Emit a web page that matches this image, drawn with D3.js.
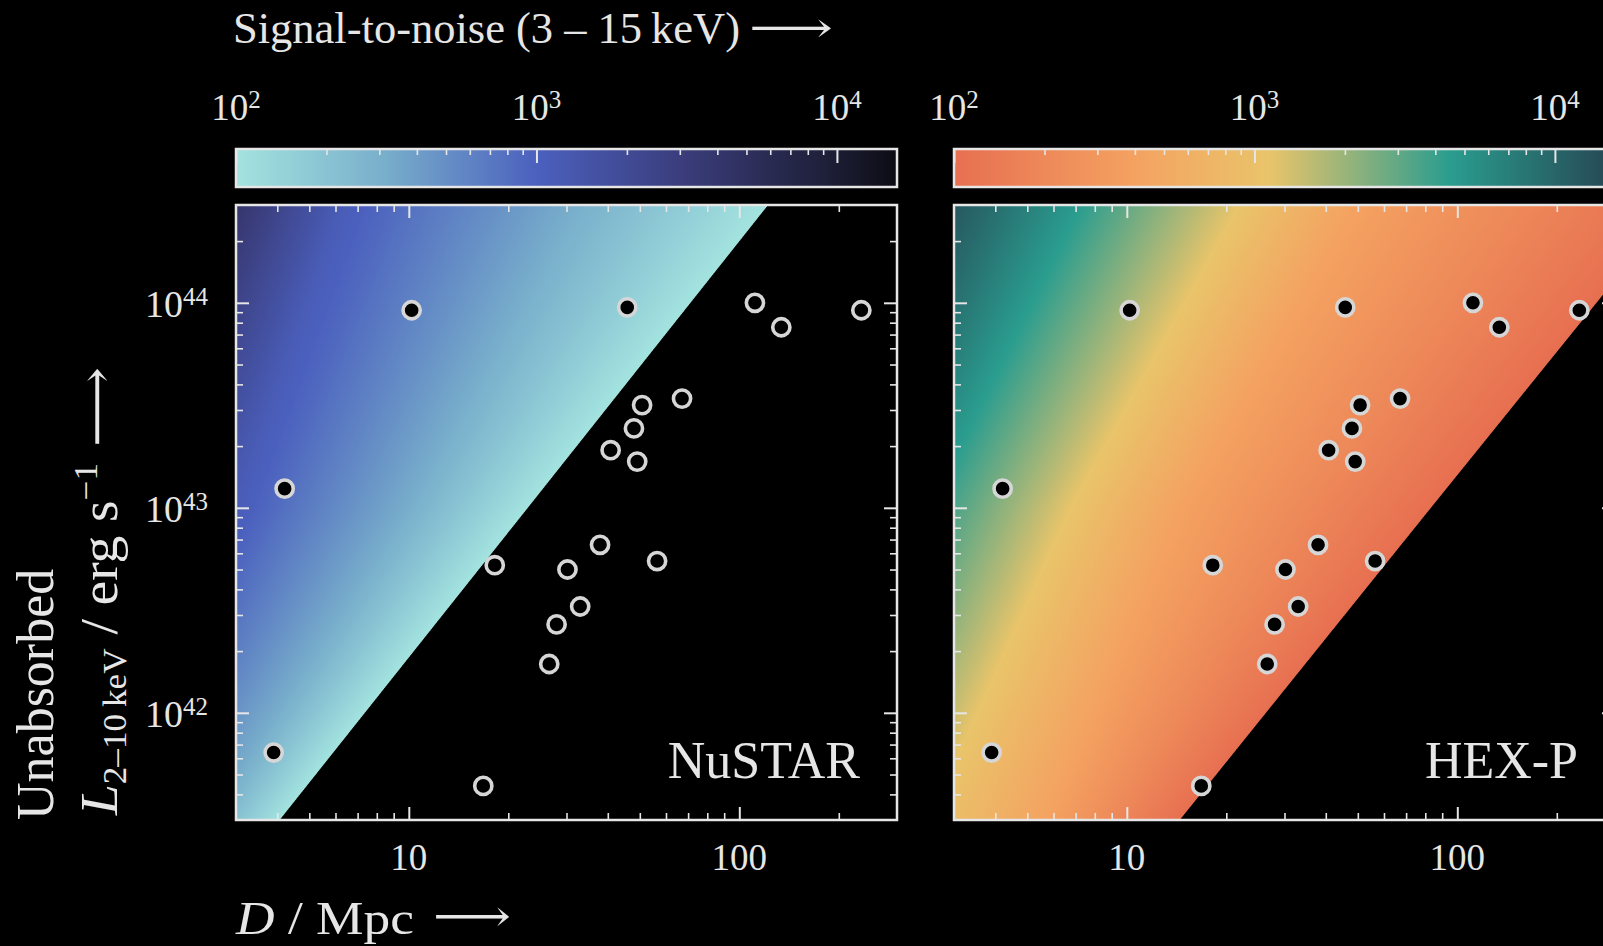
<!DOCTYPE html>
<html>
<head>
<meta charset="utf-8">
<script src="https://cdn.jsdelivr.net/npm/d3@7"></script>
<style>
  html, body { margin: 0; padding: 0; background: #000; }
  svg { display: block; }
  text { font-family: "Liberation Serif", "DejaVu Serif", serif; fill: #e6e6e6; }
</style>
</head>
<body>
<svg id="chart" width="1603" height="946"></svg>
<script>
// ---- sources: distance (Mpc) and unabsorbed 2-10 keV luminosity (erg/s) ----
const distances   = [3.90, 4.21, 10.2, 45.8, 111.5, 134, 234, 67.1, 50.8, 48.0,
                     40.8, 49.1, 37.9, 18.2, 30.2, 56.4, 33.0, 28.0, 26.6, 16.8];
const luminosities = [6.4e41, 1.24e43, 9.2e43, 9.5e43, 1.0e44, 7.6e43, 9.2e43, 3.41e43, 3.17e43, 2.44e43,
                      1.91e43, 1.68e43, 6.6e42, 5.25e42, 5.0e42, 5.5e42, 3.3e42, 2.7e42, 1.73e42, 4.4e41];

// ---- axis ticks ----
const distMajor = [10, 100];
const distMinor = [4, 5, 6, 7, 8, 9, 20, 30, 40, 50, 60, 70, 80, 90, 200];
const lumMajor = [1e42, 1e43, 1e44];
const lumMinor = [4e41, 5e41, 6e41, 7e41, 8e41, 9e41,
                  2e42, 3e42, 4e42, 5e42, 6e42, 7e42, 8e42, 9e42,
                  2e43, 3e43, 4e43, 5e43, 6e43, 7e43, 8e43, 9e43, 2e44];
const snMajor = [1e2, 1e3, 1e4];
const snMinor = [2e2, 3e2, 4e2, 5e2, 6e2, 7e2, 8e2, 9e2, 2e3, 3e3, 4e3, 5e3, 6e3, 7e3, 8e3, 9e3];
const panelNames = ["NuSTAR", "HEX-P"];

// ---- colour ramps, keyed by log10(S/N) ----
const nustarStops  = [2.0, 2.5, 3.0, 3.5, 4.0, 4.2];
const nustarColors = ["#a3e3df", "#78aecb", "#4b60be", "#3a3c7a", "#1c1d33", "#0c0c14"];
const hexpStops    = [2.0, 2.6, 3.05, 3.35, 3.65, 4.2];
const hexpColors   = ["#e76f51", "#f4a261", "#e9c46a", "#8ab17d", "#2a9d8f", "#264653"];

// ---- S/N isolines: log10(D) where each level crosses the rows of log10(L) ----
const isoRowsLogL = [41.477, 43.0, 44.477];
const nustarIsoLevels = [2.0, 2.5, 3.05, 3.6, 4.2];
const nustarIsoLogD = [
  [0.609, 1.36, 2.087],
  [0.40, 1.00, 1.50],
  [0.05, 0.48, 0.80],
  [-0.30, 0.10, 0.48],
  [-0.70, -0.30, 0.10]
];
const hexpIsoLevels = [2.0, 2.6, 3.05, 3.65, 4.2];
const hexpIsoLogD = [
  [1.16, 1.92, 2.66],
  [0.76, 1.16, 1.69],
  [0.40, 0.83, 1.34],
  [0.00, 0.40, 0.86],
  [-0.40, 0.00, 0.38]
];

// ---- layout ----
const panelW = 661, panelH = 615, panelTop = 205;
const panelLeft = [236, 954];
const cbTop = 149, cbH = 38;
const ink = "#e6e6e6";

const svg = d3.select("#chart");
svg.append("rect").attr("width", 1603).attr("height", 946).attr("fill", "#000");

const x = d3.scaleLog().domain([3, 300]).range([0, panelW]);
const y = d3.scaleLog().domain([3e41, 3e44]).range([panelH, 0]);
const cb = d3.scaleLog().domain([1e2, Math.pow(10, 4.2)]).range([0, panelW]);

const panels = [
  { name: panelNames[0], left: panelLeft[0], stops: nustarStops, colors: nustarColors,
    levels: nustarIsoLevels, iso: nustarIsoLogD, labels: true },
  { name: panelNames[1], left: panelLeft[1], stops: hexpStops, colors: hexpColors,
    levels: hexpIsoLevels, iso: hexpIsoLogD, labels: false }
];

// S/N field image for one panel
function fieldImage(p, color) {
  const SS = 3;
  const canvas = document.createElement("canvas");
  canvas.width = panelW; canvas.height = panelH;
  const ctx = canvas.getContext("2d");
  const img = ctx.createImageData(panelW, panelH);
  const N = 1024, lo = 2.0, hi = 4.4;
  const lut = d3.range(N).map(i => d3.rgb(color(lo + (hi - lo) * i / (N - 1))));
  const isoLines = p.iso.map(r => d3.scaleLinear().domain(isoRowsLogL).range(r));
  const levAsc = p.levels.slice().reverse();
  const subLogD = d3.range(panelW * SS).map(i => Math.log10(x.invert((i + 0.5) / SS)));
  const acc = new Float32Array(panelW * panelH * 3);
  for (let sj = 0; sj < panelH * SS; sj++) {
    const logL = Math.log10(y.invert((sj + 0.5) / SS));
    const dAsc = isoLines.map(s => s(logL)).reverse();
    const sn = d3.scaleLinear().domain(dAsc).range(levAsc);
    const row = Math.floor(sj / SS);
    for (let si = 0; si < panelW * SS; si++) {
      const v = sn(subLogD[si]);
      if (v < 2.0) continue;
      let k = Math.round((v - lo) / (hi - lo) * (N - 1));
      if (k > N - 1) k = N - 1;
      const c = lut[k];
      const o = (row * panelW + Math.floor(si / SS)) * 3;
      acc[o] += c.r; acc[o + 1] += c.g; acc[o + 2] += c.b;
    }
  }
  const n = SS * SS;
  for (let i = 0; i < panelW * panelH; i++) {
    img.data[i * 4] = acc[i * 3] / n;
    img.data[i * 4 + 1] = acc[i * 3 + 1] / n;
    img.data[i * 4 + 2] = acc[i * 3 + 2] / n;
    img.data[i * 4 + 3] = 255;
  }
  ctx.putImageData(img, 0, 0);
  return canvas.toDataURL();
}

function tickAxis(g, axisFn, scale, major, minor, bigLen, smallLen) {
  g.append("g").call(axisFn(scale).tickValues(major).tickSizeInner(-bigLen).tickSizeOuter(0).tickFormat(""))
    .call(a => a.select(".domain").remove())
    .call(a => a.selectAll("line").attr("stroke", ink).attr("stroke-width", 2));
  g.append("g").call(axisFn(scale).tickValues(minor).tickSizeInner(-smallLen).tickSizeOuter(0).tickFormat(""))
    .call(a => a.select(".domain").remove())
    .call(a => a.selectAll("line").attr("stroke", ink).attr("stroke-width", 1.6));
}

// a long right arrow drawn as a stretched glyph
function arrow(sel, len, size) {
  return sel.append("text").attr("font-family", "DejaVu Sans").attr("font-weight", 200)
    .attr("font-size", size).attr("textLength", len).attr("lengthAdjust", "spacingAndGlyphs")
    .text("⟶");
}

const defs = svg.append("defs");

panels.forEach((p, pi) => {
  const color = d3.scaleLinear().domain(p.stops).range(p.colors)
    .interpolate(d3.interpolateRgb).clamp(true);

  // ---- colour bar ----
  const grad = defs.append("linearGradient").attr("id", "cbgrad" + pi)
    .attr("x1", 0).attr("x2", 1).attr("y1", 0).attr("y2", 0);
  d3.range(0, 1.0001, 1 / 80).forEach(t => {
    grad.append("stop").attr("offset", t)
      .attr("stop-color", color(Math.log10(cb.invert(t * panelW))));
  });
  const cbG = svg.append("g").attr("transform", `translate(${p.left},${cbTop})`);
  cbG.append("rect").attr("width", panelW).attr("height", cbH).attr("fill", `url(#cbgrad${pi})`);
  tickAxis(cbG, d3.axisTop, cb, snMajor, snMinor, 14, 6);
  cbG.append("rect").attr("width", panelW).attr("height", cbH)
    .attr("fill", "none").attr("stroke", ink).attr("stroke-width", 2.5);
  snMajor.forEach(v => {
    const t = cbG.append("text").attr("x", cb(v)).attr("y", -29)
      .attr("text-anchor", "middle").attr("font-size", 37);
    t.append("tspan").text("10");
    t.append("tspan").attr("dy", -12).attr("font-size", 25).text(Math.round(Math.log10(v)));
  });

  // ---- panel ----
  const g = svg.append("g").attr("transform", `translate(${p.left},${panelTop})`);
  g.append("image").attr("href", fieldImage(p, color))
    .attr("width", panelW).attr("height", panelH).attr("preserveAspectRatio", "none");

  g.append("g").selectAll("circle")
    .data(distances.map((d, i) => ({ d, l: luminosities[i] })))
    .join("circle")
    .attr("cx", s => x(s.d)).attr("cy", s => y(s.l)).attr("r", 8.6)
    .attr("fill", "#000").attr("stroke", "#d6d6d6").attr("stroke-width", 3.6);

  const bottom = g.append("g").attr("transform", `translate(0,${panelH})`);
  tickAxis(bottom, d3.axisBottom, x, distMajor, distMinor, 13, 7);
  tickAxis(g.append("g"), d3.axisTop, x, distMajor, distMinor, 13, 7);
  tickAxis(g.append("g"), d3.axisLeft, y, lumMajor, lumMinor, 13, 7);
  tickAxis(g.append("g").attr("transform", `translate(${panelW},0)`), d3.axisRight, y, lumMajor, lumMinor, 13, 7);

  g.append("rect").attr("width", panelW).attr("height", panelH)
    .attr("fill", "none").attr("stroke", ink).attr("stroke-width", 2.5);

  distMajor.forEach(v => {
    g.append("text").attr("x", x(v)).attr("y", panelH + 50)
      .attr("text-anchor", "middle").attr("font-size", 37).text(String(v));
  });

  if (p.labels) {
    lumMajor.forEach(v => {
      const t = g.append("text").attr("x", -28).attr("y", y(v) + 14)
        .attr("text-anchor", "end").attr("font-size", 38);
      t.append("tspan").text("10");
      t.append("tspan").attr("dy", -12).attr("font-size", 25).text(Math.round(Math.log10(v)));
    });
  }

  g.append("text").attr("x", panelW - 37).attr("y", panelH - 42)
    .attr("text-anchor", "end").attr("font-size", 52).text(p.name);
});

// ---- titles ----
svg.append("text").attr("x", 233).attr("y", 43).attr("font-size", 44.5)
  .text("Signal-to-noise (3 – 15\u2009keV)");
arrow(svg, 84, 42).attr("x", 749).attr("y", 42);

const xl = svg.append("text").attr("x", 236).attr("y", 934).attr("font-size", 47)
  .attr("textLength", 178).attr("lengthAdjust", "spacingAndGlyphs");
xl.append("tspan").attr("font-style", "italic").text("D");
xl.append("tspan").text(" / Mpc");
arrow(svg, 78, 44).attr("x", 433).attr("y", 931);

svg.append("text").attr("transform", "translate(53,820) rotate(-90)")
  .attr("font-size", 52).text("Unabsorbed");

const yl = svg.append("text").attr("transform", "translate(117,815) rotate(-90)").attr("font-size", 52)
  .attr("textLength", 352).attr("lengthAdjust", "spacingAndGlyphs");
yl.append("tspan").attr("font-style", "italic").text("L");
yl.append("tspan").attr("font-size", 33).attr("dy", 9).text("2–10\u2009keV");
yl.append("tspan").attr("dy", -9).text(" / erg s");
yl.append("tspan").attr("font-size", 33).attr("dy", -20).text("−1");
arrow(svg, 80, 48).attr("transform", "translate(113,447) rotate(-90)");
</script>
</body>
</html>
